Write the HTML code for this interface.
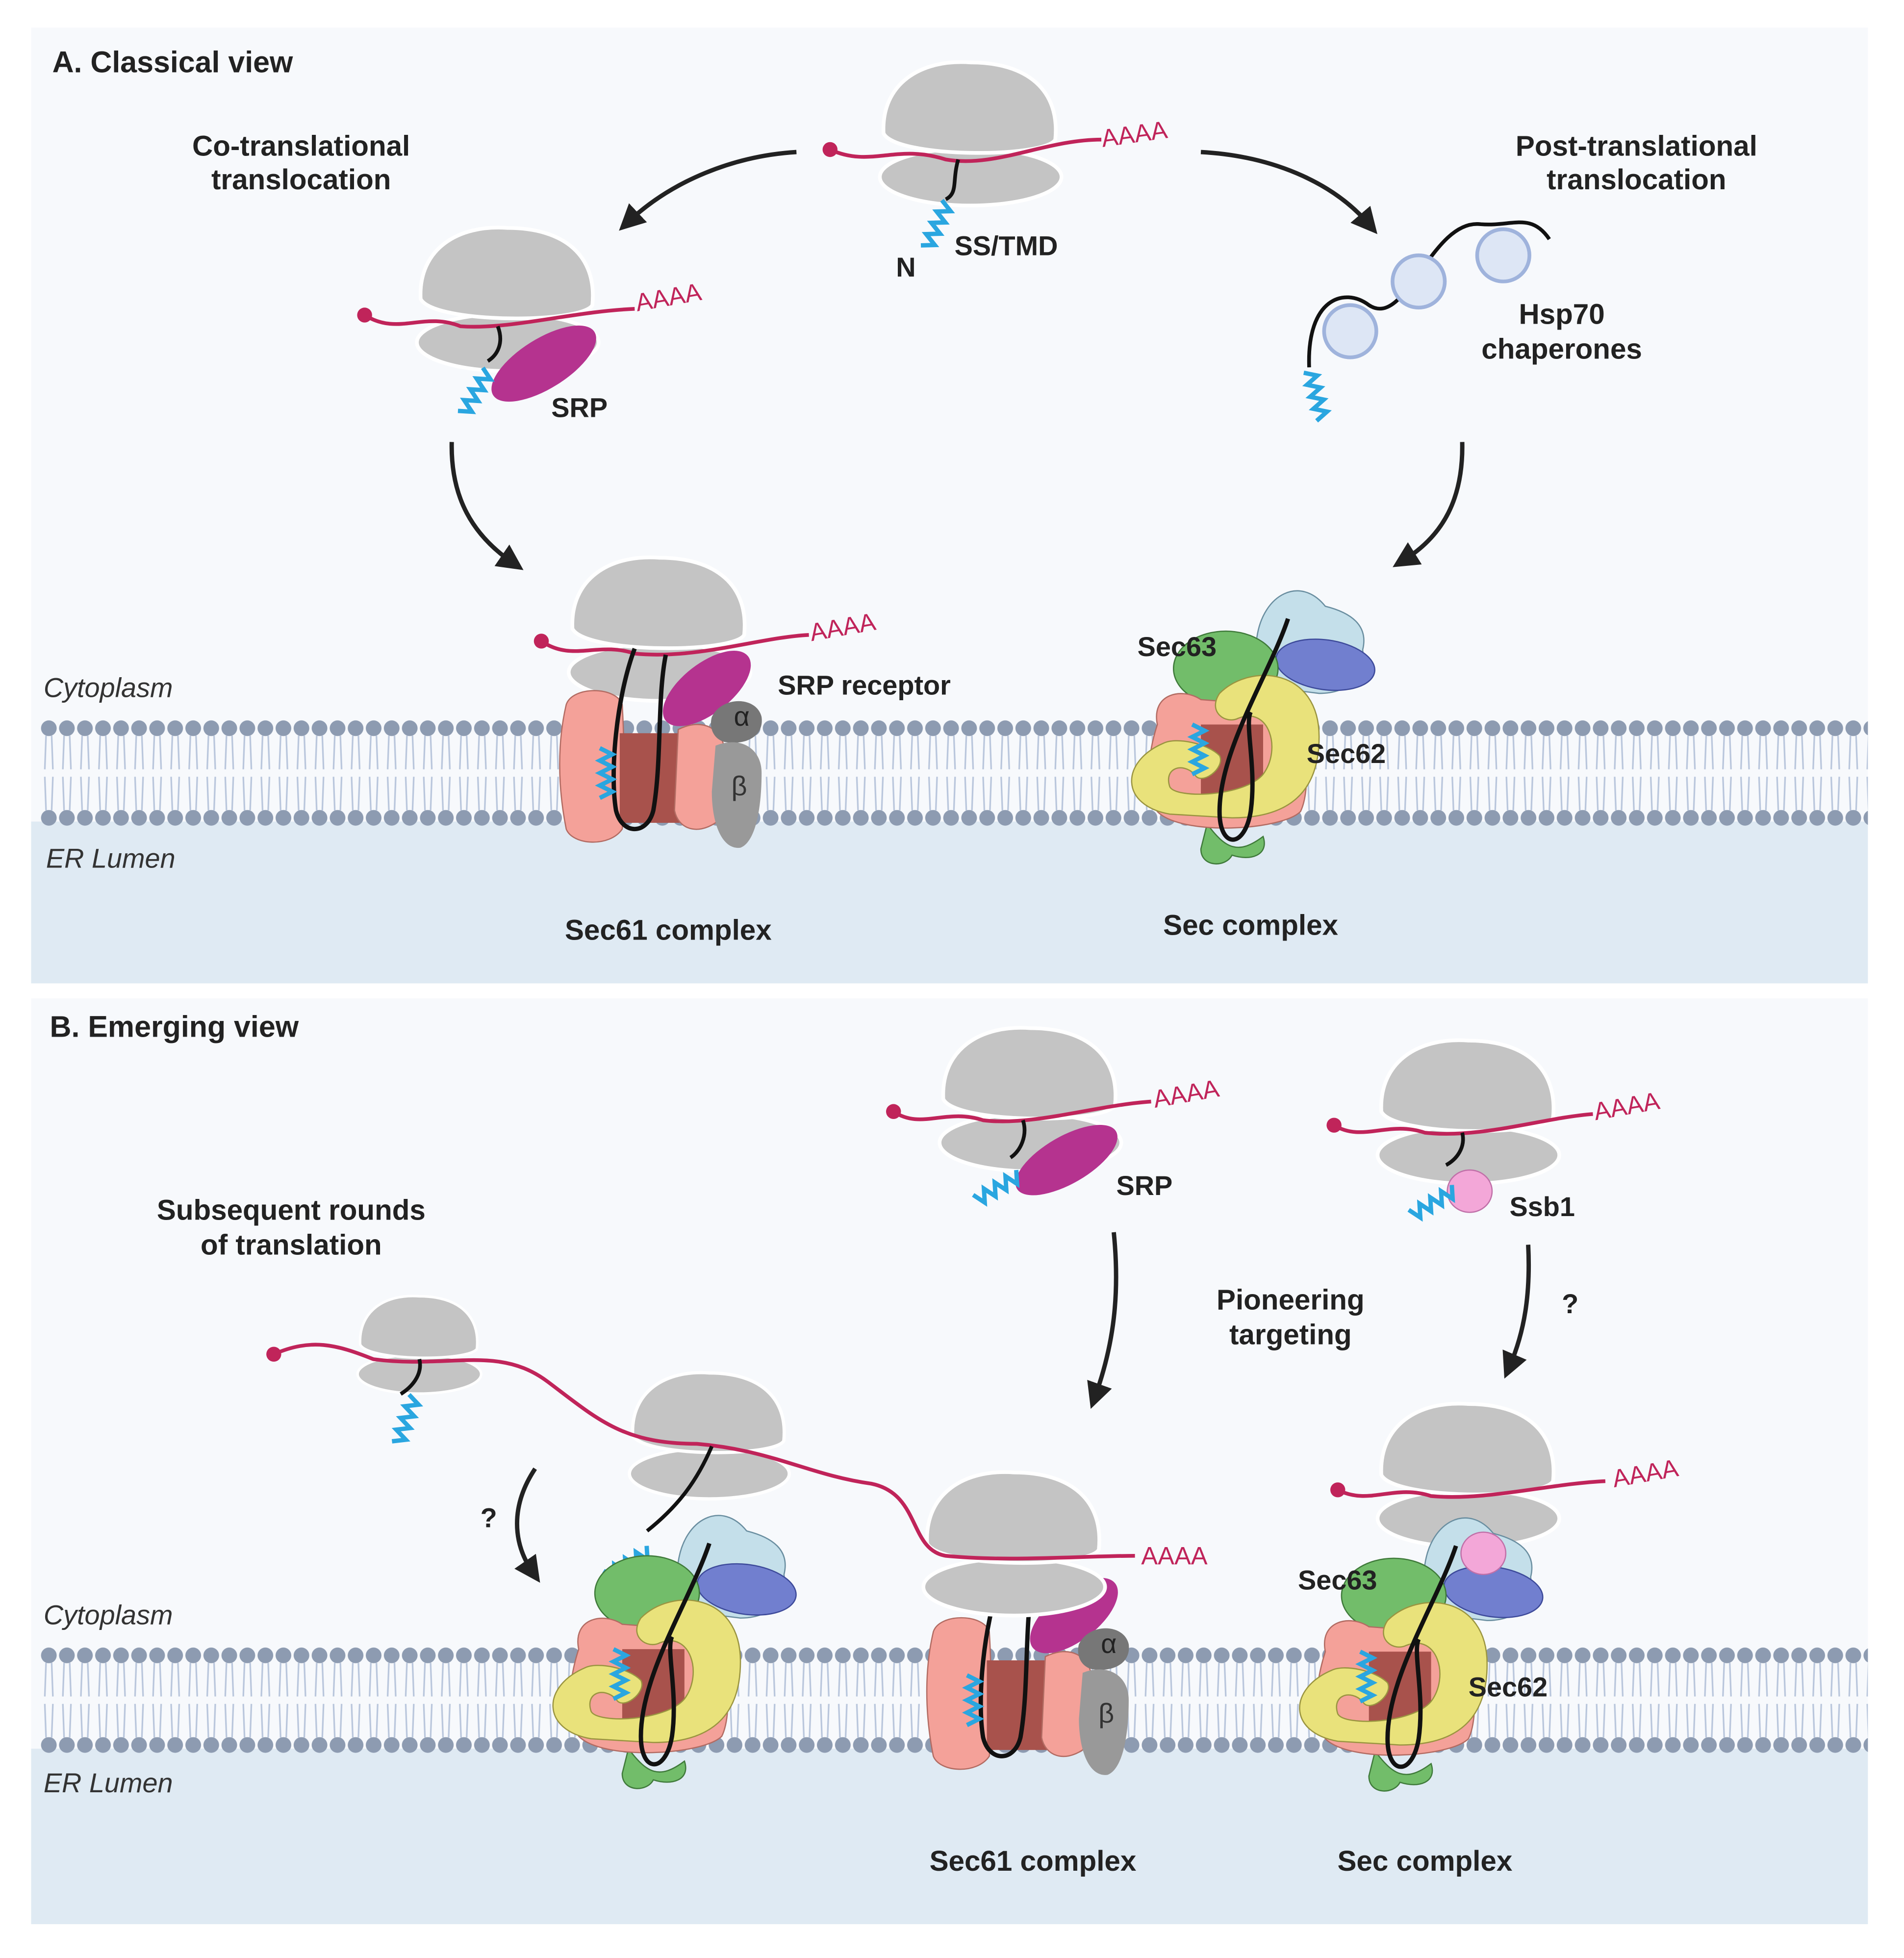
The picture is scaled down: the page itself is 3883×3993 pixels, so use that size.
<!DOCTYPE html>
<html><head><meta charset="utf-8">
<style>
html,body{margin:0;padding:0;background:#fff;}
svg{display:block;}
text{font-family:"Liberation Sans",sans-serif;font-weight:bold;fill:#222;}
.it{font-style:italic;font-weight:normal;fill:#333;}
.aa{fill:#c0245a;font-weight:normal;}
</style></head>
<body>
<svg width="3883" height="3993" viewBox="0 0 1530 1573" xmlns="http://www.w3.org/2000/svg">
<defs>
<g id="memtile">
<path d="M5,13 L4,40 M9.5,13 L10.5,40 M5,73 L4,46 M9.5,73 L10.5,46" stroke="#b9c6dc" stroke-width="1.3" fill="none"/>
<circle cx="7.25" cy="7" r="6.3" fill="#8d9bb1"/>
<circle cx="7.25" cy="79" r="6.3" fill="#8d9bb1"/>
</g>
<pattern id="memA" patternUnits="userSpaceOnUse" x="32" y="578" width="14.5" height="86">
<use href="#memtile"/>
</pattern>
<pattern id="memB" patternUnits="userSpaceOnUse" x="32" y="1323" width="14.5" height="86">
<use href="#memtile"/>
</pattern>
<marker id="ah" markerWidth="6" markerHeight="6" refX="3" refY="3" orient="auto" markerUnits="strokeWidth">
<path d="M0,0 L6,3 L0,6 Z" fill="#222"/>
</marker>
<g id="ribo">
<ellipse cx="0" cy="50" rx="73" ry="23" fill="#c4c4c4" stroke="#fff" stroke-width="3"/>
<path d="M-70,15 C-72,-25 -40,-45 0,-42 C45,-42 72,-20 68,20 C60,35 -60,35 -70,15Z" fill="#c4c4c4" stroke="#fff" stroke-width="3"/>
</g>
<path id="hel" d="M0,0 l10,-5 l-10,-5 l10,-5 l-10,-5 l10,-5 l-10,-5 l10,-5 l-10,-5" stroke="#2aa6e0" stroke-width="3.5" fill="none"/>
<g id="sec61">
<path d="M-65,-55 C-60,-70 -25,-70 -20,-55 C-18,-20 -18,20 -20,45 C-30,60 -60,58 -65,45 C-72,10 -72,-25 -65,-55Z" fill="#f4a199" stroke="#b26b62" stroke-width="1"/>
<rect x="-22" y="-32" width="58" height="72" fill="#a8524c"/>
<path d="M25,-35 C45,-45 60,-35 62,-20 C66,5 64,25 55,40 C40,50 25,45 22,30 Z" fill="#f4a199" stroke="#b26b62" stroke-width="1"/>
<ellipse cx="48" cy="-68" rx="42" ry="20" transform="rotate(-38 48 -68)" fill="#b5338f"/>
<path d="M52,-45 C60,-62 88,-62 92,-45 C94,-30 80,-22 62,-25 C52,-28 50,-38 52,-45Z" fill="#777"/>
<path d="M55,-22 C75,-30 92,-20 92,0 C92,25 88,55 75,60 C60,62 52,40 52,15 Z" fill="#999"/>
<path d="M-10,-100 C-25,-60 -30,0 -25,30 C-20,50 0,50 5,30 C12,-10 8,-60 15,-95" stroke="#111" stroke-width="3.5" fill="none"/>
<use href="#hel" transform="translate(-38,20)"/>
<text x="76" y="-38" font-size="22" style="font-weight:normal;fill:#222" text-anchor="middle">α</text>
<text x="74" y="18" font-size="22" style="font-weight:normal;fill:#333" text-anchor="middle">β</text>
</g>
<g id="secc">
<path d="M20,-100 C25,-135 55,-150 75,-125 C95,-120 110,-110 105,-90 C108,-70 95,-55 70,-55 L30,-60 C15,-70 15,-85 20,-100Z" fill="#c4dfea" stroke="#6a8ea0" stroke-width="1"/>
<ellipse cx="75" cy="-78" rx="40" ry="20" transform="rotate(8 75 -78)" fill="#717fcf" stroke="#3d4a9a" stroke-width="1"/>
<ellipse cx="-5" cy="-75" rx="42" ry="30" fill="#72bd6a" stroke="#3f7a3a" stroke-width="1"/>
<path d="M-20,50 C-5,70 5,75 25,60 C30,75 15,80 0,75 C-5,85 -25,85 -25,70 Z" fill="#72bd6a" stroke="#3f7a3a" stroke-width="1"/>
<path d="M-60,-30 C-65,-55 -40,-60 -25,-50 L40,-45 C60,-40 65,20 55,40 C40,55 -40,60 -60,40 C-70,20 -68,-5 -60,-30Z" fill="#f4a199" stroke="#b26b62" stroke-width="1"/>
<rect x="-25" y="-30" width="50" height="70" fill="#a8524c"/>
<path d="M-10,-55 C15,-80 70,-75 70,-20 C70,25 45,45 0,45 L-50,42 C-90,35 -90,0 -55,-15 C-45,-20 -20,-15 -10,-5 C-5,5 -25,20 -30,10 C-40,0 -55,5 -50,20 C-45,30 10,28 25,10 C40,-10 30,-45 5,-35 C-5,-30 -20,-40 -10,-55Z" fill="#e9e27b" stroke="#9a9440" stroke-width="1"/>
<path d="M45,-115 C30,-70 -10,-10 -10,40 C-10,70 10,70 15,40 C20,5 10,-30 15,-40" stroke="#111" stroke-width="3.5" fill="none"/>
<use href="#hel" transform="translate(-32,10)"/>
</g>
</defs>

<!-- Panel A -->
<rect x="25" y="22" width="1476" height="768" fill="#f7f9fc"/>
<rect x="25" y="660" width="1476" height="130" fill="#dfeaf3"/>
<rect x="32" y="578" width="1469" height="86" fill="url(#memA)"/>
<!-- Panel B -->
<rect x="25" y="802" width="1476" height="744" fill="#f7f9fc"/>
<rect x="25" y="1405" width="1476" height="141" fill="#dfeaf3"/>
<rect x="32" y="1323" width="1469" height="86" fill="url(#memB)"/>

<text x="42" y="58" font-size="24">A. Classical view</text>
<text x="242" y="125" font-size="23" text-anchor="middle">Co-translational</text>
<text x="242" y="152" font-size="23" text-anchor="middle">translocation</text>
<text x="1315" y="125" font-size="23" text-anchor="middle">Post-translational</text>
<text x="1315" y="152" font-size="23" text-anchor="middle">translocation</text>

<!-- top ribosome A -->
<use href="#ribo" transform="translate(780,92)"/>
<path d="M667,120 C700,135 720,115 760,128 C800,135 840,112 885,112" stroke="#c0245a" stroke-width="3" fill="none"/>
<circle cx="667" cy="120" r="6" fill="#c0245a"/>
<text class="aa" x="886" y="118" font-size="20" transform="rotate(-8 886 118)">AAAA</text>
<path d="M770,128 C765,145 770,155 760,160" stroke="#111" stroke-width="3" fill="none"/>
<use href="#hel" transform="translate(740,197) rotate(25)"/>
<text x="720" y="222" font-size="22">N</text>
<text x="767" y="205" font-size="22">SS/TMD</text>

<!-- arrows -->
<g stroke="#222" stroke-width="3.5" fill="none" marker-end="url(#ah)">
<path d="M640,122 C590,125 540,145 505,178"/>
<path d="M965,122 C1020,125 1070,145 1100,180"/>
<path d="M363,355 C362,400 380,430 412,452"/>
<path d="M1175,355 C1176,400 1160,430 1128,450"/>
<path d="M895,990 C900,1040 895,1080 880,1122"/>
<path d="M1228,1000 C1230,1040 1225,1070 1213,1098"/>
<path d="M430,1180 C410,1210 412,1240 428,1263"/>
</g>

<!-- left SRP ribosome A -->
<use href="#ribo" transform="translate(408,225)"/>
<path d="M293,253 C320,270 340,250 370,262 C410,265 460,250 510,248" stroke="#c0245a" stroke-width="3" fill="none"/>
<circle cx="293" cy="253" r="6" fill="#c0245a"/>
<text class="aa" x="512" y="250" font-size="20" transform="rotate(-10 512 250)">AAAA</text>
<path d="M400,262 C405,275 400,285 392,290" stroke="#111" stroke-width="3" fill="none"/>
<ellipse cx="437" cy="292" rx="48" ry="20" transform="rotate(-32 437 292)" fill="#b5338f"/>
<use href="#hel" transform="translate(368,330) rotate(30)"/>
<text x="443" y="335" font-size="22">SRP</text>

<!-- Hsp70 -->
<path d="M1052,295 C1050,240 1080,230 1100,245 C1130,265 1150,175 1190,180 C1215,182 1230,170 1245,192" stroke="#111" stroke-width="3" fill="none"/>
<g fill="#dde6f5" stroke="#9fb3dc" stroke-width="3">
<circle cx="1085" cy="266" r="21"/><circle cx="1140" cy="226" r="21"/><circle cx="1208" cy="205" r="21"/>
</g>
<use href="#hel" transform="translate(1058,338) rotate(-15)"/>
<text x="1255" y="260" font-size="23" text-anchor="middle">Hsp70</text>
<text x="1255" y="288" font-size="23" text-anchor="middle">chaperones</text>

<!-- Sec61 complex A -->
<use href="#ribo" transform="translate(530,490)"/>
<path d="M435,515 C460,532 480,515 510,525 C560,530 610,512 650,510" stroke="#c0245a" stroke-width="3" fill="none"/>
<circle cx="435" cy="515" r="6" fill="#c0245a"/>
<text class="aa" x="652" y="515" font-size="20" transform="rotate(-10 652 515)">AAAA</text>
<use href="#sec61" transform="translate(520,621)"/>
<text x="625" y="558" font-size="22">SRP receptor</text>
<text x="537" y="755" font-size="23" text-anchor="middle">Sec61 complex</text>

<!-- Sec complex A -->
<use href="#secc" transform="translate(990,612)"/>
<text x="914" y="527" font-size="22">Sec63</text>
<text x="1050" y="613" font-size="22">Sec62</text>
<text x="1005" y="751" font-size="23" text-anchor="middle">Sec complex</text>

<text class="it" x="35" y="560" font-size="22">Cytoplasm</text>
<text class="it" x="37" y="697" font-size="22">ER Lumen</text>

<!-- Panel B -->
<text x="40" y="833" font-size="24">B. Emerging view</text>

<use href="#ribo" transform="translate(828,868)"/>
<path d="M718,893 C740,908 760,890 790,900 C830,905 880,888 925,885" stroke="#c0245a" stroke-width="3" fill="none"/>
<circle cx="718" cy="893" r="6" fill="#c0245a"/>
<text class="aa" x="928" y="890" font-size="20" transform="rotate(-10 928 890)">AAAA</text>
<path d="M822,900 C826,912 820,925 812,930" stroke="#111" stroke-width="3" fill="none"/>
<ellipse cx="857" cy="932" rx="46" ry="19" transform="rotate(-30 857 932)" fill="#b5338f"/>
<use href="#hel" transform="translate(782,960) rotate(60)"/>
<text x="897" y="960" font-size="22">SRP</text>

<use href="#ribo" transform="translate(1180,878)"/>
<path d="M1072,904 C1095,918 1115,900 1145,910 C1190,915 1240,898 1280,895" stroke="#c0245a" stroke-width="3" fill="none"/>
<circle cx="1072" cy="904" r="6" fill="#c0245a"/>
<text class="aa" x="1282" y="900" font-size="20" transform="rotate(-10 1282 900)">AAAA</text>
<path d="M1175,910 C1178,922 1170,932 1162,936" stroke="#111" stroke-width="3" fill="none"/>
<ellipse cx="1181" cy="957" rx="18" ry="17" fill="#f3a7d8" stroke="#c070a8" stroke-width="1"/>
<use href="#hel" transform="translate(1132,972) rotate(60)"/>
<text x="1213" y="977" font-size="22">Ssb1</text>

<text x="234" y="980" font-size="23" text-anchor="middle">Subsequent rounds</text>
<text x="234" y="1008" font-size="23" text-anchor="middle">of translation</text>
<text x="1037" y="1052" font-size="23" text-anchor="middle">Pioneering</text>
<text x="1037" y="1080" font-size="23" text-anchor="middle">targeting</text>
<text x="1255" y="1055" font-size="22">?</text>
<text x="386" y="1227" font-size="22">?</text>

<!-- polysome -->
<use href="#ribo" transform="translate(337,1070) scale(0.68)"/>
<use href="#ribo" transform="translate(570,1140) scale(0.88)"/>
<use href="#sec61" transform="translate(815,1366)"/>
<use href="#ribo" transform="translate(815,1225)"/>
<path d="M220,1088 C250,1075 270,1080 300,1092 C360,1100 400,1080 440,1110 C480,1140 500,1160 560,1160 C620,1165 650,1185 700,1192 C740,1200 730,1245 760,1250 C810,1255 870,1250 912,1250" stroke="#c0245a" stroke-width="3" fill="none"/>
<circle cx="220" cy="1088" r="6" fill="#c0245a"/>
<text class="aa" x="917" y="1257" font-size="20">AAAA</text>
<path d="M337,1092 C340,1105 330,1115 322,1120" stroke="#111" stroke-width="3" fill="none"/>
<use href="#hel" transform="translate(315,1158) rotate(20)"/>
<path d="M572,1162 C560,1190 545,1210 520,1230" stroke="#111" stroke-width="3" fill="none"/>
<use href="#hel" transform="translate(485,1262) rotate(60)"/>
<use href="#secc" transform="translate(525,1355)"/>

<!-- Sec complex B right -->
<use href="#ribo" transform="translate(1180,1170)"/>
<path d="M1075,1197 C1100,1210 1120,1192 1150,1202 C1195,1206 1245,1192 1290,1190" stroke="#c0245a" stroke-width="3" fill="none"/>
<circle cx="1075" cy="1197" r="6" fill="#c0245a"/>
<text class="aa" x="1297" y="1195" font-size="20" transform="rotate(-10 1297 1195)">AAAA</text>
<use href="#secc" transform="translate(1125,1357)"/>
<ellipse cx="1192" cy="1248" rx="18" ry="17" fill="#f3a7d8" stroke="#c070a8" stroke-width="1"/>
<text x="1043" y="1277" font-size="22">Sec63</text>
<text x="1180" y="1363" font-size="22">Sec62</text>
<text x="830" y="1503" font-size="23" text-anchor="middle">Sec61 complex</text>
<text x="1145" y="1503" font-size="23" text-anchor="middle">Sec complex</text>
<text class="it" x="35" y="1305" font-size="22">Cytoplasm</text>
<text class="it" x="35" y="1440" font-size="22">ER Lumen</text>
</svg>
</body></html>
